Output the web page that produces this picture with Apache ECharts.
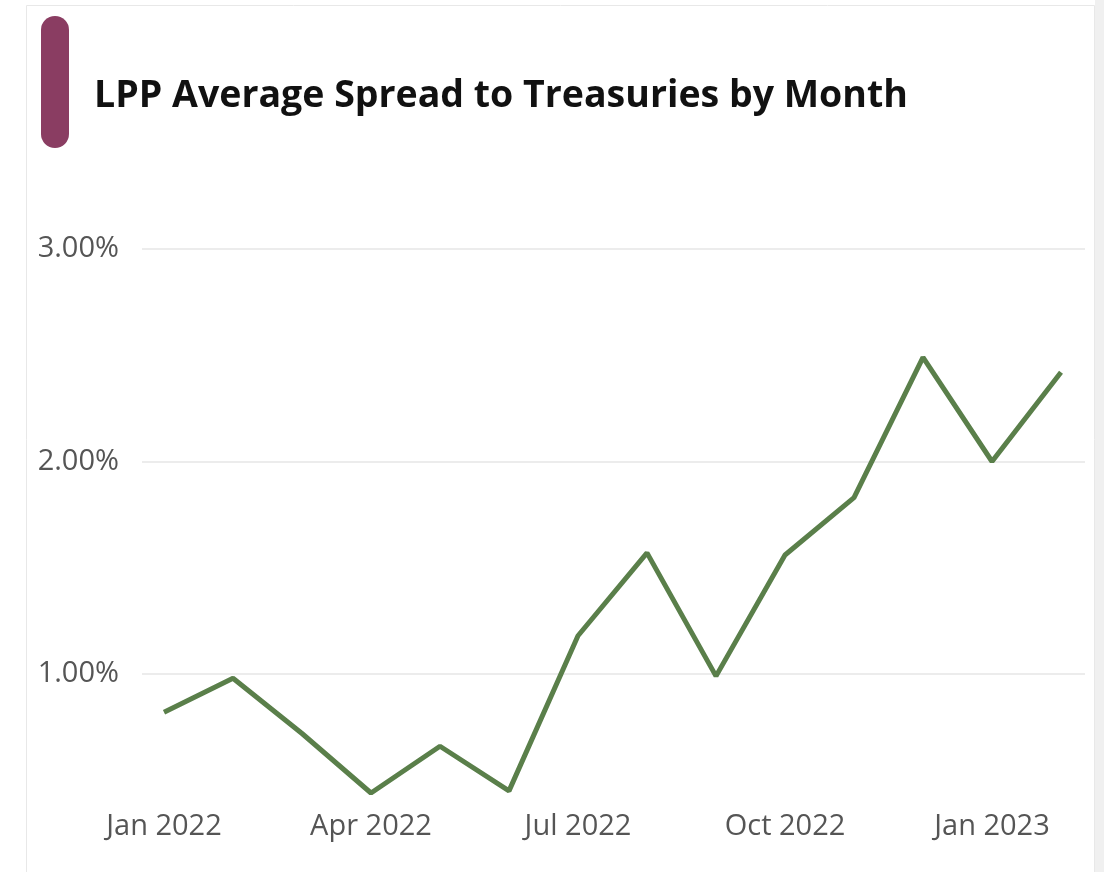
<!DOCTYPE html>
<html>
<head>
<meta charset="utf-8">
<title>LPP Average Spread to Treasuries by Month</title>
<script src="https://cdn.jsdelivr.net/npm/echarts@6/dist/echarts.min.js"></script>
<style>
    html, body { margin: 0; padding: 0; background: #fff; }
    #chart { width: 1104px; height: 872px; }
</style>
</head>
<body>
<div id="chart"></div>
<script>
// months shown on the x axis (label every 3rd)
const months = ['Jan 2022', 'Feb 2022', 'Mar 2022', 'Apr 2022', 'May 2022', 'Jun 2022',
    'Jul 2022', 'Aug 2022', 'Sep 2022', 'Oct 2022', 'Nov 2022', 'Dec 2022', 'Jan 2023', 'Feb 2023']
// average spread, in percent
const spread = [0.82, 0.98, 0.72, 0.44, 0.66, 0.45, 1.18, 1.57, 0.99, 1.56, 1.83, 2.49, 2.00, 2.42]
const yTicks = [1, 2, 3]

const chart = echarts.init(document.getElementById('chart'))
const font = '"Open Sans", "Noto Sans", sans-serif'
const noLine = 'rgba(0,0,0,0)'

// shared y scale; ticks every 0.2 so the axis can start at 0.4
const yScale = { type: 'value', min: 0.4, max: 3, interval: 0.2 }

chart.setOption({
    animation: false,
    backgroundColor: '#fff',
    graphic: [
        {
            // card outline
            type: 'rect',
            shape: { x: 26.5, y: 5.5, width: 1068, height: 880 },
            style: { fill: '#fff', stroke: '#e8e8e8', lineWidth: 1 },
            z: -10,
        },
        {
            type: 'rect',
            shape: { x: 1095, y: 0, width: 9, height: 872 },
            style: { fill: '#f0f0f0' },
            z: -10,
        },
        {
            // accent bar beside the title
            type: 'rect',
            shape: { x: 41, y: 16, width: 28, height: 132, r: 14 },
            style: { fill: '#8a3d62' },
        },
    ],
    title: {
        text: 'LPP Average Spread to Treasuries by Month',
        left: 89,
        top: 72,
        textStyle: {
            fontFamily: font,
            fontSize: 37.5,
            fontWeight: 'bold',
            color: '#111',
        },
    },
    grid: [
        // plot area for the line
        { left: 164, right: 43, top: 249, bottom: 70.5, containLabel: false },
        // slightly wider area that only carries the gridlines
        { left: 142, right: 19, top: 249, bottom: 70.5, containLabel: false },
    ],
    xAxis: [
        {
            type: 'category',
            gridIndex: 0,
            data: months,
            boundaryGap: false,
            axisLine: { show: false },
            axisTick: { show: false },
            axisLabel: {
                interval: 2,
                margin: 11,
                fontFamily: font,
                fontSize: 29,
                color: '#555',
            },
        },
        {
            type: 'value',
            gridIndex: 1,
            show: false,
        },
    ],
    yAxis: [
        {
            ...yScale,
            gridIndex: 0,
            axisLine: { show: false },
            axisTick: { show: false },
            splitLine: { show: false },
            axisLabel: {
                margin: 45,
                fontFamily: font,
                fontSize: 29,
                color: '#555',
                formatter: (v) => {
                    const hit = yTicks.find((t) => Math.abs(t - v) < 1e-6)
                    return hit ? hit.toFixed(2) + '%' : ''
                },
            },
        },
        {
            ...yScale,
            gridIndex: 1,
            axisLine: { show: false },
            axisTick: { show: false },
            axisLabel: { show: false },
            splitLine: {
                show: true,
                lineStyle: {
                    // only the whole-percent lines are visible
                    color: [noLine, noLine, noLine, '#e6e6e6', noLine],
                    width: 1.5,
                },
            },
        },
    ],
    series: [
        {
            name: 'Spread',
            type: 'line',
            xAxisIndex: 0,
            yAxisIndex: 0,
            data: spread,
            symbol: 'none',
            lineStyle: { color: '#5a7f4a', width: 5 },
            itemStyle: { color: '#5a7f4a' },
            z: 3,
        },
    ],
})
</script>
</body>
</html>
